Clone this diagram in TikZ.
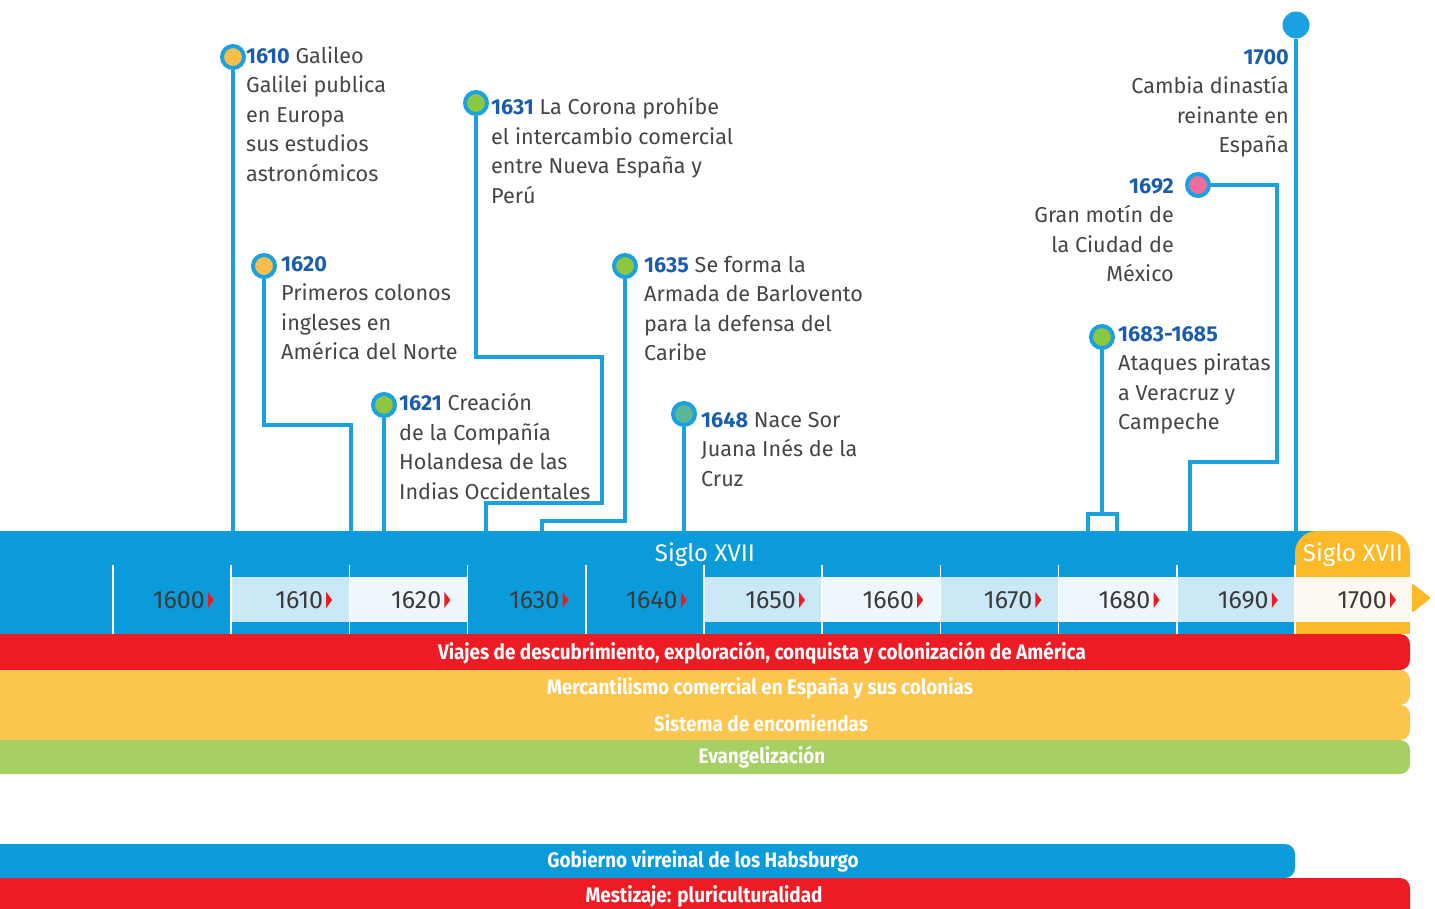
\documentclass[tikz,border=0pt]{standalone}
\usepackage{fontspec}
\setmainfont{Fira Sans}
\newfontfamily\condfont[FakeStretch=0.9]{Fira Sans}
\usepackage{xcolor}
\usetikzlibrary{positioning,calc}

\definecolor{bandblue}{HTML}{0B9BDB}
\definecolor{linkblue}{HTML}{1BA1E2}
\definecolor{lightcell}{HTML}{CBE8F6}
\definecolor{palecell}{HTML}{EEF7FC}
\definecolor{creamcell}{HTML}{FDF9F0}
\definecolor{taborange}{HTML}{FDB927}
\definecolor{barorange}{HTML}{FCC54E}
\definecolor{barred}{HTML}{ED1C24}
\definecolor{bargreen}{HTML}{A6D063}
\definecolor{yearblue}{HTML}{1A5DAA}
\definecolor{bodygray}{HTML}{454545}
\definecolor{yeargray}{HTML}{3A3A3A}
\definecolor{dotorange}{HTML}{F9BE4A}
\definecolor{dotgreen}{HTML}{8DC63F}
\definecolor{dotteal}{HTML}{5BB597}
\definecolor{dotpink}{HTML}{EF6C9C}

\newcommand{\evyear}[1]{{\bfseries\color{yearblue}#1}}

\begin{document}
\begin{tikzpicture}[x=1pt,y=-1pt, line cap=butt, line join=miter]
  \useasboundingbox (0,0) rectangle (1435,908);

  % ===== styles =====
  \tikzset{
    link/.style={draw=linkblue, line width=4pt},
    dot/.style={circle, draw=linkblue, line width=4pt, minimum size=22pt, inner sep=0pt},
    evtext/.style={inner sep=0pt, text=bodygray, font=\fontsize{21.6}{29.5}\selectfont},
    yearlbl/.style={inner sep=0pt, text=yeargray, font=\fontsize{25}{25}\selectfont},
    bartext/.style={inner sep=0pt, text=white, font=\condfont\bfseries\fontsize{21}{21}\selectfont}
  }

  % ===== puntos de los eventos =====
  \node[dot, fill=dotorange] (d1610) at (233,57) {};
  \node[dot, fill=dotorange] (d1620) at (264,266) {};
  \node[dot, fill=dotgreen] (d1621) at (384,405) {};
  \node[dot, fill=dotgreen] (d1631) at (476,103) {};
  \node[dot, fill=dotgreen] (d1635) at (625,266) {};
  \node[dot, fill=dotteal] (d1648) at (684,414) {};
  \node[dot, fill=dotgreen] (d1683) at (1102,337) {};
  \node[dot, fill=dotpink] (d1692) at (1198,185) {};
  \node[circle, fill=linkblue, minimum size=27pt, inner sep=0pt] (d1700) at (1296,25) {};

  % ===== textos =====
  \node[evtext, anchor=north west, align=left] (t1610) at (246,46)
    {\evyear{1610} Galileo\\Galilei publica\\en Europa\\sus estudios\\astronómicos};
  \node[evtext, anchor=north west, align=left] (t1620) at (281,256)
    {\evyear{1620}\\Primeros colonos\\ingleses en\\América del Norte};
  \node[evtext, anchor=north west, align=left] (t1621) at (399,393)
    {\evyear{1621} Creación\\de la Compañía\\Holandesa de las\\Indias Occidentales};
  \node[evtext, anchor=north west, align=left] (t1631) at (491,97)
    {\evyear{1631} La Corona prohíbe\\el intercambio comercial\\entre Nueva España y\\Perú};
  \node[evtext, anchor=north west, align=left] (t1635) at (644,256)
    {\evyear{1635} Se forma la\\Armada de Barlovento\\para la defensa del\\Caribe};
  \node[evtext, anchor=north west, align=left] (t1648) at (701,412)
    {\evyear{1648} Nace Sor\\Juana Inés de la\\Cruz};
  \node[evtext, anchor=north west, align=left] (t1683) at (1118,326)
    {\evyear{1683-1685}\\Ataques piratas\\a Veracruz y\\Campeche};
  \node[evtext, anchor=north east, align=right] (t1692) at (1174,178)
    {\evyear{1692}\\Gran motín de\\la Ciudad de\\México};
  \node[evtext, anchor=north east, align=right] (t1700) at (1289,49)
    {\evyear{1700}\\Cambia dinastía\\reinante en\\España};

  % ===== conectores =====
  \coordinate (b1610) at (233,533);
  \coordinate (b1620) at (351,533);
  \coordinate (b1621) at (384,533);
  \coordinate (b1631) at (486,533);
  \coordinate (b1635) at (542,533);
  \coordinate (b1648) at (684,533);
  \coordinate (b1683a) at (1088,533);
  \coordinate (b1683b) at (1117,533);
  \coordinate (b1692) at (1190,533);
  \coordinate (b1700) at (1296,533);

  \draw[link] (d1610) -- (b1610);
  \draw[link] (d1620) |- (351,425) -- (b1620);
  \draw[link] (d1621) -- (b1621);
  \draw[link] (d1631) |- (602,357) |- (486,503) -- (b1631);
  \draw[link] (d1635) |- (542,521) -- (b1635);
  \draw[link] (d1648) -- (b1648);
  \draw[link] (d1683) -- (1102,514);
  \draw[link] (b1683a) -- (1088,514) -- (1117,514) -- (b1683b);
  \draw[link] (d1692) -| (1277,462) -| (b1692);
  \draw[link] (d1700) -- (b1700);

  % ===== banda del siglo =====
  \fill[bandblue] (0,531) rectangle (1320,634);
  \node[inner sep=0pt, text=white, font=\fontsize{24}{24}\selectfont] (siglo) at (705,555) {Siglo XVII};

  \fill[taborange, rounded corners=22pt] (1295,531) rectangle (1410,634);
  \fill[taborange] (1295,590) rectangle (1410,634);
  \node[inner sep=0pt, text=white, font=\fontsize{24}{24}\selectfont] (sigloB) at (1353,555) {Siglo XVII};
  \fill[taborange, rounded corners=2pt] (1412,583) -- (1431,598) -- (1412,613) -- cycle;

  % ===== celdas claras =====
  \foreach \i/\c in {1/lightcell,2/palecell,5/lightcell,6/palecell,7/lightcell,8/palecell,9/lightcell}{
    \fill[\c] ({113+118.2*\i},577) rectangle ({113+118.2*(\i+1)},622);
  }
  \fill[creamcell] (1295,577) rectangle (1410,622);

  % ===== marcas blancas =====
  \foreach \i in {0,...,10}{
    \draw[white, line width=1.6pt] ({113+118.2*\i},565) -- ({113+118.2*\i},634);
  }

  % ===== años =====
  \foreach \i in {0,...,10}{
    \pgfmathtruncatemacro\yr{1600+10*\i}
    \node[yearlbl, anchor=east] (y\i) at ({113+118.2*\i+92},600) {\yr};
    \fill[barred] ([xshift=3pt,yshift=8pt]y\i.east) -- ([xshift=9pt]y\i.east) -- ([xshift=3pt,yshift=-8pt]y\i.east) -- cycle;
  }

  % ===== franjas de procesos =====
  \fill[barred, rounded corners=10pt] (-20,634) rectangle (1410,670);
  \node[bartext] (viajes) at (762,653) {Viajes de descubrimiento, exploración, conquista y colonización de América};

  \fill[barorange, rounded corners=10pt] (-20,670) rectangle (1410,705);
  \node[bartext] (mercan) at (760,688) {Mercantilismo comercial en España y sus colonias};

  \fill[barorange, rounded corners=10pt] (-20,705) rectangle (1410,740);
  \node[bartext] (encom) at (761,723) {Sistema de encomiendas};

  \fill[bargreen, rounded corners=10pt] (-20,740) rectangle (1410,774);
  \node[bartext] (evang) at (762,757) {Evangelización};

  \fill[barred, rounded corners=10pt] (-20,878) rectangle (1410,930);
  \node[bartext] (mest) at (704,896) {Mestizaje: pluriculturalidad};

  \fill[bandblue, rounded corners=10pt] (-20,844) rectangle (1295,878);
  \node[bartext] (habs) at (703,861) {Gobierno virreinal de los Habsburgo};
\end{tikzpicture}
\end{document}
